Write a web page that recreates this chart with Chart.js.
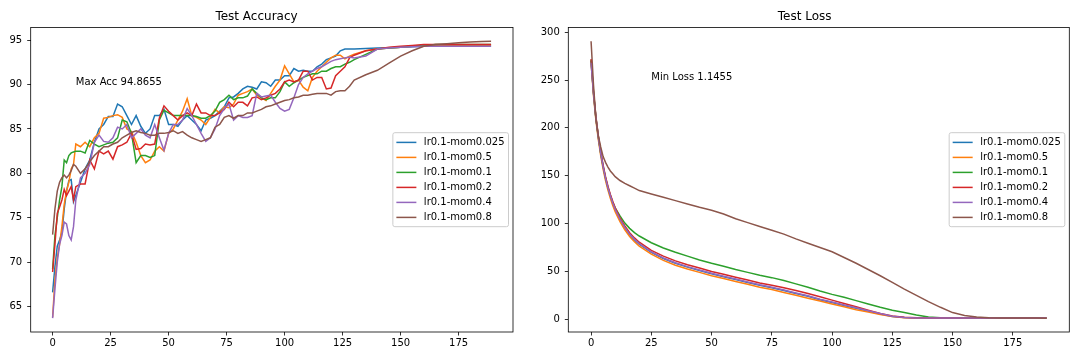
<!DOCTYPE html>
<html>
<head>
<meta charset="utf-8">
<script src="https://cdn.jsdelivr.net/npm/chart.js@4.4.1/dist/chart.umd.min.js"></script>
<style>
  body { margin: 0; background: #fff; }
  .box { position: absolute; top: 0; width: 540px; height: 360px; }
</style>
</head>
<body>
<div class="box" style="left:0"><canvas id="acc"></canvas></div>
<div class="box" style="left:540px"><canvas id="loss"></canvas></div>
<script>
// series names, in plotting order
const names = ['lr0.1-mom0.025', 'lr0.1-mom0.5', 'lr0.1-mom0.1', 'lr0.1-mom0.2', 'lr0.1-mom0.4', 'lr0.1-mom0.8'];
const colors = ['#1f77b4', '#ff7f0e', '#2ca02c', '#d62728', '#9467bd', '#8c564b'];

// tick labels
const xTicks = [0, 25, 50, 75, 100, 125, 150, 175];
const accTicks = [65, 70, 75, 80, 85, 90, 95];
const lossTicks = [0, 50, 100, 150, 200, 250, 300];

const accEpochs = [0, 1, 2, 3, 4, 5, 6, 7, 8, 9, 10,
  12, 14, 16, 18, 20, 22, 24, 26, 28, 30,
  32, 34, 36, 38, 40, 42, 44, 46, 48, 50,
  52, 54, 56, 58, 60, 62, 64, 66, 68, 70,
  72, 74, 76, 78, 80, 82, 84, 86, 88, 90,
  92, 94, 96, 98, 100, 102, 104, 106, 108, 110,
  112, 114, 116, 118, 120, 122, 124, 126, 128, 130,
  135, 140, 145, 150, 155, 160, 165, 170, 175, 180, 185, 189];

const accMom0025 = [66.6, 69.5, 71.8, 72.5, 73.3, 76, 78, 79.2, 79.3, 76.8, 77.5,
  79, 80.5, 81.5, 83.5, 85, 85.5, 86.4, 86.4, 87.8, 87.5,
  86.5, 85.5, 86.5, 85.3, 84.5, 85, 86.5, 86.5, 87.2, 85.5,
  85.5, 85.3, 86, 86.5, 86, 85.5, 84.8, 86, 86.2, 86.5,
  87, 87.5, 88.5, 88.6, 89, 89.5, 89.8, 89.7, 89.5, 90.3,
  90.2, 89.8, 90.5, 90.5, 91, 91, 91.8, 91.5, 91.6, 91.5,
  91.5, 92, 92.3, 92.8, 93, 93.2, 93.8, 94, 94, 94,
  94.05, 94.1, 94.15, 94.2, 94.25, 94.3, 94.3, 94.3, 94.3, 94.3, 94.3, 94.3];
const accMom05 = [63.8, 68, 70.5, 72, 74, 76.5, 78, 79, 80.5, 81, 83.3,
  83, 83.5, 83, 84, 84.5, 86.2, 86.3, 86.5, 86.6, 86.3,
  85, 84.7, 83.5, 82, 81.2, 81.5, 82.5, 83, 82.5, 84.5,
  85, 86, 87, 88.4, 86.5, 86.3, 86, 85.5, 86.3, 87.2,
  86.8, 87.5, 87.4, 87.8, 88.8, 89, 89.2, 89.5, 88.8, 88.5,
  88.2, 89, 89.8, 90.5, 92.1, 91.2, 90.3, 90.5, 89.7, 89.3,
  90.8, 91.5, 92, 92.5, 93, 93.3, 93.3, 92.9, 93.2, 93.4,
  93.8, 94, 94.1, 94.2, 94.3, 94.4, 94.4, 94.4, 94.4, 94.4, 94.4, 94.4];
const accMom01 = [69.2, 73, 75, 77, 78.5, 81.5, 81.2, 82, 82.3, 82.4, 82.5,
  82.5, 82.3, 83.7, 83.3, 83, 83.2, 83.4, 83.5, 84, 86,
  85.8, 84.5, 81.2, 82, 82, 81.8, 82, 86, 87.1, 86.8,
  86.5, 86.5, 86.5, 86.5, 86.5, 86.4, 86.2, 86.2, 86.5, 87,
  88, 88.3, 88.8, 88.3, 88.5, 88.5, 88.7, 89.5, 89, 88.5,
  88.3, 88.5, 88.5, 89.2, 90.3, 89.8, 90.2, 90.5, 90.8, 91,
  91.2, 91.2, 91.5, 91.5, 91.8, 92, 92, 92.3, 92.5, 92.8,
  93.4, 94, 94.1, 94.2, 94.3, 94.4, 94.5, 94.5, 94.5, 94.5, 94.5, 94.5];
const accMom02 = [68.9, 72, 75.5, 76.2, 77, 78.2, 77.5, 78, 78.5, 77, 78.5,
  78.8, 78.8, 81.5, 80.5, 82.5, 82.2, 82.5, 81.6, 83, 83.2,
  83.5, 84.5, 82.7, 82.8, 83.3, 83.2, 83.3, 86.2, 87.6, 87,
  86.5, 86, 86.5, 86.8, 86.5, 87.8, 86.8, 86.8, 86.5, 86.5,
  86.8, 87.2, 88, 87.5, 88, 88, 87.6, 88.5, 88.6, 88.3,
  88.5, 88.8, 89, 89.5, 90.3, 90.5, 90.3, 90.5, 91.5, 91.5,
  90.5, 90.8, 90.8, 89.5, 89.6, 91, 91.5, 92, 93, 93.3,
  93.8, 94, 94.2, 94.3, 94.4, 94.5, 94.5, 94.5, 94.5, 94.5, 94.5, 94.5];
const accMom04 = [63.7, 67, 70, 72, 73, 74.5, 74.3, 73, 72.5, 74, 77,
  79.5, 80, 81, 83.5, 84.3, 83.6, 83.5, 84, 85.2, 85,
  85.5, 84, 84.5, 85, 84.3, 84, 85.5, 84, 82.6, 84.5,
  85.5, 85.5, 86, 87.3, 86.5, 85.5, 84.5, 83.6, 84, 85,
  86.5, 87.3, 87.8, 86, 86.5, 86.3, 86.3, 86.5, 89, 88.6,
  88.7, 88.8, 88, 87.3, 87, 87.2, 88.5, 90, 90.8, 91.2,
  91.5, 91.8, 92, 92.3, 92.6, 92.8, 92.9, 93, 93.1, 93,
  93.2, 94, 94.1, 94.2, 94.25, 94.3, 94.3, 94.3, 94.3, 94.3, 94.3, 94.3];
const accMom08 = [73.1, 76, 78, 79, 79.5, 79.8, 79.5, 79.8, 80.3, 81, 80.8,
  80, 80.5, 81.3, 82, 82.5, 83, 83, 83.3, 83.5, 84,
  84.3, 84.6, 84.8, 84.6, 84.5, 84.3, 84.3, 84.5, 84.5, 84.6,
  84.8, 84.5, 84.7, 84.3, 84, 83.8, 83.6, 83.8, 84, 85.2,
  85.5, 86.3, 86.5, 86.2, 86.5, 86.5, 86.8, 86.8, 87, 87.2,
  87.5, 87.6, 87.8, 88, 88.2, 88.3, 88.5, 88.6, 88.8, 88.8,
  88.9, 89, 89, 89, 88.8, 89.2, 89.3, 89.3, 89.8, 90.5,
  91.1, 91.6, 92.4, 93.2, 93.8, 94.3, 94.5, 94.6, 94.7, 94.8, 94.85, 94.87];

const lossEpochs = [0, 1, 2, 3, 4, 5, 6, 7, 8, 9, 10, 12, 14, 16, 18, 20,
  25, 30, 35, 40, 45, 50, 55, 60, 65, 70, 75, 80, 85, 90, 95, 100,
  105, 110, 115, 120, 125, 130, 135, 140, 145, 150, 155, 160, 165, 170, 175, 180, 185, 189];

const lossMom0025 = [270, 236, 210, 190, 173, 159, 147, 137, 128.5, 121, 114.5, 104, 95.5, 88.5, 83, 78.5,
  70, 63.5, 58.5, 54.5, 51, 47.5, 44.5, 41.5, 38.5, 35.5, 33, 30, 27, 24, 20.5, 17.5,
  14.5, 11.5, 8.5, 5.5, 3, 1.8, 1.4, 1.3, 1.25, 1.2, 1.2, 1.2, 1.2, 1.2, 1.2, 1.2, 1.2, 1.2];
const lossMom05 = [268, 234, 208, 188, 171, 157, 145, 135, 126.5, 119, 112.5, 102, 93.5, 86.5, 81, 76.5,
  68, 61.5, 56.5, 52.5, 49, 45.5, 42.5, 39.5, 36.5, 33.5, 31, 28, 25, 22, 19, 16,
  13, 10, 7.5, 5, 2.8, 1.6, 1.3, 1.25, 1.2, 1.2, 1.2, 1.2, 1.2, 1.2, 1.2, 1.2, 1.2, 1.2];
const lossMom01 = [271, 237, 211, 191, 174, 160, 148, 138, 129.5, 122.5, 116.5, 108, 100.5, 95, 90.5, 87,
  80, 74.5, 70, 66, 62, 58.5, 55.5, 52, 49, 46, 43.5, 40.5, 37, 33.5, 29.5, 26,
  23, 19.5, 16, 12.5, 9.5, 7, 4.5, 2.5, 1.6, 1.3, 1.2, 1.2, 1.2, 1.2, 1.2, 1.2, 1.2, 1.2];
const lossMom02 = [272, 238, 212, 192, 175, 161, 149, 139, 130.5, 123, 116.5, 106, 97.5, 90.5, 85, 80.5,
  72, 66, 61, 57, 53.5, 50, 47, 44, 41, 38, 35.5, 33, 30, 27, 23.5, 20,
  16.5, 13, 9.5, 6, 3.5, 2, 1.5, 1.3, 1.25, 1.2, 1.2, 1.2, 1.2, 1.2, 1.2, 1.2, 1.2, 1.2];
const lossMom04 = [268, 236.5, 210.5, 190.5, 173.5, 159.5, 147.5, 137.5, 129, 121.5, 115, 104.5, 96, 89, 83.5, 79,
  70.5, 64, 59, 55, 51.5, 48, 45, 42, 39, 36, 33.5, 30.5, 27.5, 24.5, 21, 18,
  15, 12, 9, 6, 3.2, 1.9, 1.4, 1.3, 1.25, 1.2, 1.2, 1.2, 1.2, 1.2, 1.2, 1.2, 1.2, 1.2];
const lossMom08 = [290.5, 245, 210, 192, 180, 170, 164, 159, 155, 152, 149, 145, 142, 139.5, 137, 134.5,
  131, 127.5, 124, 120.5, 117, 114, 110, 105, 101, 97, 93, 89, 84, 79.5, 75, 70.5,
  64.5, 58.5, 52, 45.5, 38.5, 31.5, 25, 18.5, 12.5, 7, 4, 2.5, 1.7, 1.4, 1.3, 1.25, 1.2, 1.15];

const accSeries = [accMom0025, accMom05, accMom01, accMom02, accMom04, accMom08];
const lossSeries = [lossMom0025, lossMom05, lossMom01, lossMom02, lossMom04, lossMom08];

const FONT = 'DejaVu Sans';
Chart.defaults.font.family = FONT;
Chart.defaults.color = '#000';

function makeSets(epochs, series) {
  return series.map((vals, i) => ({
    label: names[i],
    data: vals.map((v, j) => ({ x: epochs[j], y: v })),
    borderColor: colors[i],
    backgroundColor: colors[i],
    borderWidth: 1.5,
    pointRadius: 0,
    fill: false,
    tension: 0,
    order: series.length - 1 - i   // later series drawn on top, like matplotlib
  }));
}

// frame, legend box and the text note, matplotlib style
const mplLook = {
  id: 'mplLook',
  afterDraw(chart, args, opts) {
    const ctx = chart.ctx;
    const a = chart.chartArea;
    ctx.save();
    // spines
    ctx.strokeStyle = '#000';
    ctx.lineWidth = 0.8;
    ctx.strokeRect(a.left, a.top, a.right - a.left, a.bottom - a.top);

    // note
    ctx.font = '10px "' + FONT + '"';
    ctx.fillStyle = '#000';
    ctx.textAlign = 'left';
    ctx.textBaseline = 'alphabetic';
    const sx = chart.scales.x, sy = chart.scales.y;
    ctx.fillText(opts.note, sx.getPixelForValue(opts.noteX), sy.getPixelForValue(opts.noteY));

    // legend
    const sets = chart.data.datasets;
    let tw = 0;
    sets.forEach(d => { tw = Math.max(tw, ctx.measureText(d.label).width); });
    const rowH = 15;
    const w = 3.5 + 20 + 7.5 + tw + 4;
    const h = rowH * sets.length + 4;
    const x0 = a.right - 4.5 - w;
    const y0 = (a.top + a.bottom) / 2 - h / 2;
    ctx.beginPath();
    ctx.roundRect(x0, y0, w, h, 2);
    ctx.fillStyle = 'rgba(255,255,255,0.8)';
    ctx.fill();
    ctx.strokeStyle = '#cccccc';
    ctx.lineWidth = 1;
    ctx.stroke();
    ctx.textBaseline = 'middle';
    sets.forEach((d, i) => {
      const cy = y0 + 9.7 + i * rowH;
      ctx.beginPath();
      ctx.moveTo(x0 + 3.5, cy);
      ctx.lineTo(x0 + 23.5, cy);
      ctx.strokeStyle = d.borderColor;
      ctx.lineWidth = 1.5;
      ctx.stroke();
      ctx.fillStyle = '#000';
      ctx.fillText(d.label, x0 + 31, cy);
    });
    ctx.restore();
  }
};

function axis(min, max, ticks, fitW, fitH, horizontal) {
  return {
    type: 'linear',
    min: min,
    max: max,
    border: { display: false },
    grid: { drawOnChartArea: false, drawTicks: true, tickLength: 3.5, color: '#000', lineWidth: 0.8 },
    ticks: { font: { size: 10 }, color: '#000', padding: horizontal ? 2 : 5, maxRotation: 0 },
    afterBuildTicks: s => { s.ticks = ticks.map(v => ({ value: v })); },
    afterFit: s => { if (horizontal) s.height = fitH; else s.width = fitW; }
  };
}

function build(id, title, epochs, series, yMin, yMax, yTicks, yW, padRight, note) {
  new Chart(document.getElementById(id), {
    type: 'line',
    data: { datasets: makeSets(epochs, series) },
    options: {
      responsive: true,
      maintainAspectRatio: false,
      animation: false,
      events: [],
      layout: { padding: { left: 0, right: padRight, top: 0, bottom: 0 } },
      scales: {
        x: axis(-9.45, 198.45, xTicks, 0, 28, true),
        y: axis(yMin, yMax, yTicks, yW, 0, false)
      },
      plugins: {
        legend: { display: false },
        tooltip: { enabled: false },
        title: {
          display: true,
          text: title,
          color: '#000',
          font: { size: 12, weight: 'normal' },
          padding: { top: 10, bottom: 3 }
        },
        mplLook: note
      }
    },
    plugins: [mplLook]
  });
}

build('acc', 'Test Accuracy', accEpochs, accSeries, 62.14, 96.43, accTicks, 30.7, 27,
  { note: 'Max Acc 94.8655', noteX: 10, noteY: 90 });
build('loss', 'Test Loss', lossEpochs, lossSeries, -13.3, 305, lossTicks, 28.3, 10.7,
  { note: 'Min Loss 1.1455', noteX: 25, noteY: 250 });
</script>
</body>
</html>
